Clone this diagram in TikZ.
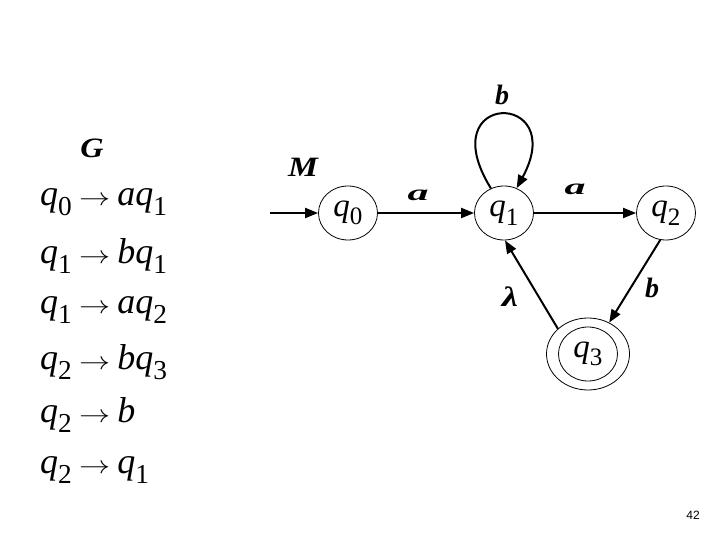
\documentclass[tikz,border=0pt]{standalone}
\usepackage{fontspec}
\usepackage{graphicx}
\setmainfont{Liberation Serif}
\newfontfamily\pagefont{Liberation Sans}
\usetikzlibrary{arrows.meta,shapes.geometric}
\newcommand{\qq}[1]{\textit{q}\raisebox{-0.26em}{\fontsize{0.76em}{0.76em}\selectfont #1}}
\newcommand{\arr}{\hspace{0.2em}\scalebox{1.25}[1.0]{$\rightarrow$}\hspace{0.2em}}
\tikzset{
  state/.style={draw,ellipse,line width=0.8pt,minimum width=59pt,minimum height=54pt,inner sep=0pt,font=\fontsize{33}{33}\selectfont},
  edge/.style={line width=2pt,-{Triangle[length=13pt,width=10pt]}},
  lbl/.style={font=\fontsize{28}{28}\selectfont\bfseries\itshape},
  rule/.style={anchor=west,inner sep=0pt,font=\fontsize{36}{36}\selectfont},
  pagenum/.style={font=\pagefont\fontsize{12}{12}\selectfont}
}
\begin{document}
\begin{tikzpicture}[x=1pt,y=-1pt]
\useasboundingbox (0,0) rectangle (720,540);
% grammar
\node[lbl,xscale=1.15] (G) at (92,148) {G};
\node[rule] (r1) at (40,202) {\qq{0}\arr\textit{a}\qq{1}};
\node[rule] (r2) at (40,256) {\qq{1}\arr\textit{b}\qq{1}};
\node[rule] (r3) at (40,310) {\qq{1}\arr\textit{a}\qq{2}};
\node[rule] (r4) at (40,362) {\qq{2}\arr\textit{b}\qq{3}};
\node[rule] (r5) at (40,415) {\qq{2}\arr\textit{b}};
\node[rule] (r6) at (40,470) {\qq{2}\arr\qq{1}};
% automaton
\node[lbl,xscale=1.2] (M) at (303,167) {M};
\coordinate (start) at (270,213);
\node[state] (q0) at (348,213) {\qq{0}};
\node[state] (q1) at (504,213) {\qq{1}};
\node[state] (q2) at (666,213) {\qq{2}};
\node[state,minimum width=83pt,minimum height=72pt] (q3) at (588,354) {};
\node[state] (q3in) at (588,354) {\qq{3}};
\draw[edge] (start) -- (q0);
\draw[edge] (q0) -- (q1);
\draw[edge] (q1) -- (q2);
\draw[edge] (q1.118) .. controls (430,90) and (570,90) .. (q1.63);
\draw[edge] (q2.-102) -- (q3.56);
\draw[edge] (q3.140) -- (q1.-88);
\node[lbl,xscale=1.5,yscale=0.8] (la1) at (418,195) {a};
\node[lbl,xscale=1.5,yscale=0.8] (la2) at (575,189) {a};
\node[lbl] (lb1) at (502,95) {b};
\node[lbl] (lb2) at (652,288) {b};
\node[lbl,xscale=1.3] (lam) at (510,297) {λ};
\node[pagenum] (pg) at (693,515) {42};
\end{tikzpicture}
\end{document}
